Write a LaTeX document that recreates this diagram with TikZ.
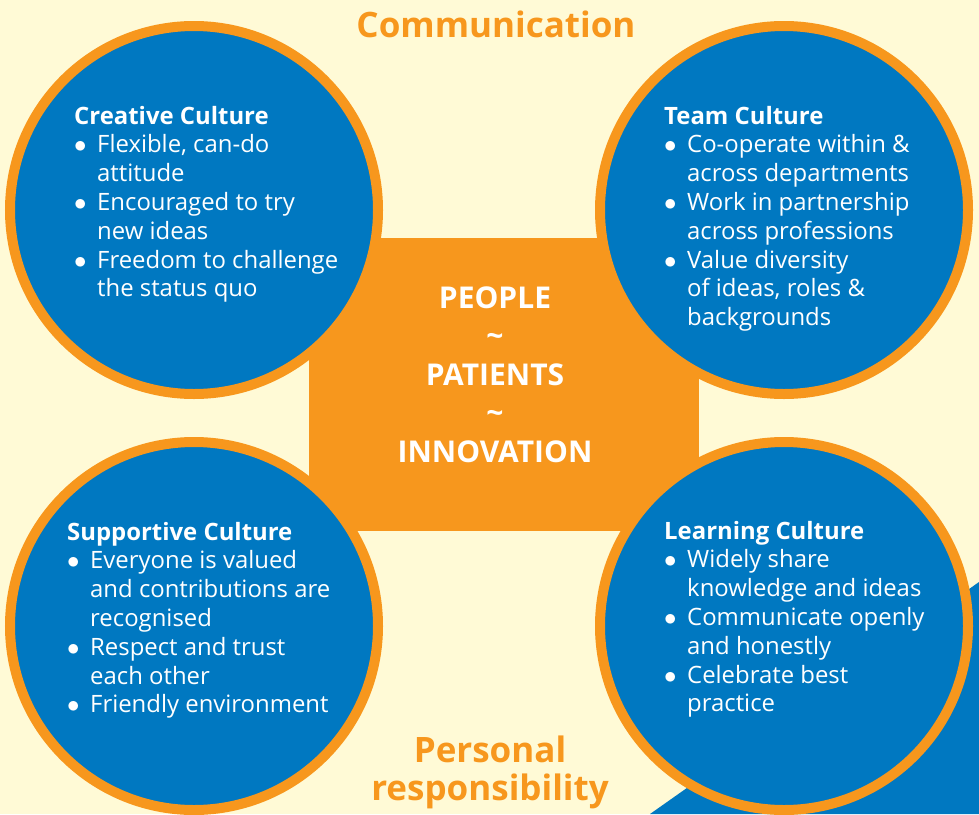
\documentclass[tikz,border=0pt]{standalone}
\usepackage{fontspec}
\setmainfont{Open Sans}
\usetikzlibrary{positioning}
\definecolor{cultureblue}{HTML}{0078C1}
\definecolor{cultureorange}{HTML}{F7971D}
\definecolor{paper}{HTML}{FFFAD6}
\newcommand{\bulletline}[1]{\makebox[23pt][l]{$\bullet$}#1}
\newcommand{\carryline}[1]{\hspace*{23pt}#1}

\begin{document}
\begin{tikzpicture}[x=1pt, y=-1pt,
    culture/.style={circle, fill=cultureblue, draw=cultureorange, line width=10pt,
        minimum size=368pt, inner sep=0pt},
    blurb/.style={anchor=base west, inner sep=0pt, text=white,
        font=\fontsize{23.9}{28.8}\selectfont},
    motto/.style={anchor=base, inner sep=0pt, text=white,
        font=\bfseries\fontsize{30}{38.5}\selectfont},
    heading/.style={anchor=base, inner sep=0pt, text=cultureorange,
        font=\bfseries\fontsize{35}{38}\selectfont}]
        % Background
        \useasboundingbox (0, 0) rectangle (979, 814);
        \fill [paper] (0, 0) rectangle (979, 814);
        \fill [cultureblue] (650, 814) -- (979, 582) -- (979, 814) -- cycle;
        % Centre
        \fill [cultureorange] (309, 238) rectangle (699, 531);
        % Circles
        \node [culture] (creative) at (194, 210) {};
        \node [culture] (team) at (784, 210) {};
        \node [culture] (supportive) at (194, 626) {};
        \node [culture] (learning) at (784, 626) {};
        % Texts
        \node [blurb] (creativetext) at (74, 124) {\parbox[t]{300pt}{\raggedright
            \textbf{Creative Culture}\\
            \bulletline{Flexible, can-do}\\
            \carryline{attitude}\\
            \bulletline{Encouraged to try}\\
            \carryline{new ideas}\\
            \bulletline{Freedom to challenge}\\
            \carryline{the status quo}}};
        \node [blurb] (teamtext) at (664, 124) {\parbox[t]{300pt}{\raggedright
            \textbf{Team Culture}\\
            \bulletline{Co-operate within \&}\\
            \carryline{across departments}\\
            \bulletline{Work in partnership}\\
            \carryline{across professions}\\
            \bulletline{Value diversity}\\
            \carryline{of ideas, roles \&}\\
            \carryline{backgrounds}}};
        \node [blurb] (supportivetext) at (67, 540) {\parbox[t]{300pt}{\raggedright
            \textbf{Supportive Culture}\\
            \bulletline{Everyone is valued}\\
            \carryline{and contributions are}\\
            \carryline{recognised}\\
            \bulletline{Respect and trust}\\
            \carryline{each other}\\
            \bulletline{Friendly environment}}};
        \node [blurb] (learningtext) at (664, 539) {\parbox[t]{300pt}{\raggedright
            \textbf{Learning Culture}\\
            \bulletline{Widely share}\\
            \carryline{knowledge and ideas}\\
            \bulletline{Communicate openly}\\
            \carryline{and honestly}\\
            \bulletline{Celebrate best}\\
            \carryline{practice}}};
        \node [motto] (values) at (495, 308) {\parbox[t]{300pt}{\centering
            PEOPLE\\ \textasciitilde\\ PATIENTS\\ \textasciitilde\\ INNOVATION}};
        % Titles
        \node [heading] (communication) at (496, 37) {Communication};
        \node [heading] (responsibility) at (490, 762) {\parbox[t]{300pt}{\centering
            Personal\\ responsibility}};
    \end{tikzpicture}
\end{document}
